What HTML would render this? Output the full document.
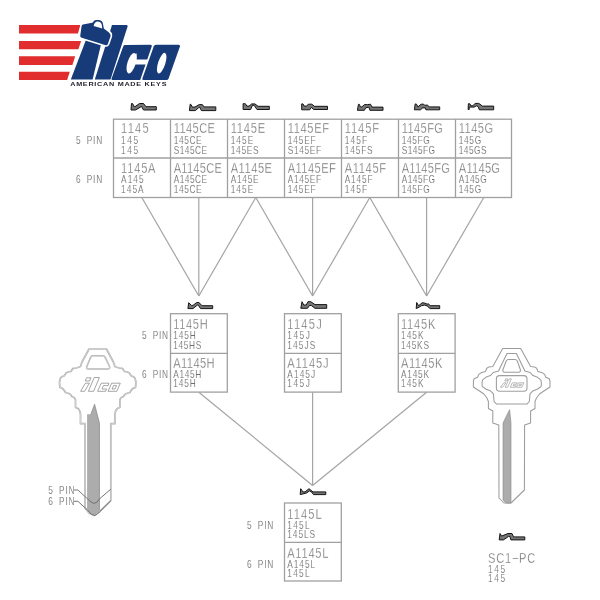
<!DOCTYPE html><html><head><meta charset="utf-8"><style>html,body{margin:0;padding:0;background:#fff;width:600px;height:600px;overflow:hidden}svg{display:block;will-change:transform}text{font-family:"Liberation Sans",sans-serif}</style></head><body>
<svg width="600" height="600" viewBox="0 0 600 600">
<rect width="600" height="600" fill="#fff"/>
<g fill="#e12d2d">
<polygon points="19,24.9 80.6,24.9 77.9,33.5 19,33.5"/>
<polygon points="19,41.1 81.1,41.1 78.4,49.25 19,49.25"/>
<polygon points="19,56.3 75.2,56.3 72.4,65 19,65"/>
<polygon points="19,71.8 69.8,71.8 67.1,80.1 19,80.1"/>
</g>
<g fill="#173a78">
<polygon points="86.7,38 101.6,42 92.6,79.6 70.8,79.6"/>
<path d="M112,24.9 L126.5,24.9 Q128,25 127.6,26.5 L110.5,79.6 L94.8,79.6 Z"/>
<path d="M125,45 L150.6,44.8 Q152.2,44.8 151.8,46.3 L140.2,80.1 L112.6,80.1 Q111.1,80 111.6,78.5 L123.3,46.3 Q123.8,45 125,45 Z"/>
<path d="M156,44.8 L178.6,44.8 Q180.4,44.9 179.9,46.5 L168.6,78.6 Q168,80.1 166.4,80.1 L143.6,80.1 Q141.9,80 142.4,78.4 L153.8,46.3 Q154.4,44.8 156,44.8 Z"/>
</g>
<g fill="#fff">
<ellipse cx="0" cy="0" rx="4.1" ry="10.6" transform="translate(131.5,63.3) rotate(17)"/>
<polygon points="133.2,59.6 147.9,59.6 146.2,64.4 132,64.4"/>
<polygon points="133.5,54 136.7,53.6 136.6,60 133,60"/>
<ellipse cx="0" cy="0" rx="3.6" ry="10.8" transform="translate(161.7,63.2) rotate(18)"/>
</g>
<path d="M82.8,23.6 L92,22 Q93.5,19.2 97,19 Q101.8,19 103.4,22.2 L104.6,28 L109.2,31.5 Q112,33.5 111.3,36.5 L108.6,44.2 Q107.6,46.6 104.8,45.8 L81.5,38.6 Q79,37.8 79.5,35.3 L80.8,26 Q81.2,23.9 82.8,23.6 Z" fill="#173a78" stroke="#fff" stroke-width="1.6" stroke-linejoin="round"/>
<path d="M93.6,26 Q94.5,21.6 97.6,21.5 Q100.9,21.6 101.7,24.6 L102.3,28.4 Q98,27.1 93.6,26 Z" fill="#fff"/>
<text x="70.2" y="86" font-size="5.9" font-weight="bold" fill="#23232e" textLength="97" lengthAdjust="spacingAndGlyphs" letter-spacing="0.6">AMERICAN MADE KEYS</text>
<polygon transform="translate(131,103.5)" points="0,6.5 0.5,0 1.5,0 3.5,3.5 8.5,0 12.5,0 15,3.2 25.3,3.2 25.3,6.5 12.5,6.5 10.5,3 4.5,6.5" fill="#767676" stroke="#141414" stroke-width="1.0" stroke-linejoin="round"/>
<polygon transform="translate(189.4,104.2)" points="0,6.4 0.8,0 1.6,0.3 2.9,2.9 5.6,2.8 9.9,0.3 13.1,0.5 14.6,2.7 26.4,2.7 26.4,6.4 12,6.4 10.2,2.8 9.2,3.5 6,6.4" fill="#767676" stroke="#141414" stroke-width="1.0" stroke-linejoin="round"/>
<polygon transform="translate(243.1,103.7)" points="0,0 2.2,0 3.8,2.4 5.9,2.4 8.6,0.2 11.8,0.2 15,2.6 26.2,2.6 26.2,5.8 13.9,5.8 11,1.6 9.4,1.6 7.5,5.8 0,5.8" fill="#767676" stroke="#141414" stroke-width="1.0" stroke-linejoin="round"/>
<polygon transform="translate(301.7,103.9)" points="0,0 1.3,0 2.4,2.2 4.8,2.2 6.6,0.3 10.1,0.3 12.8,2.4 25.8,2.4 25.8,5.6 12,5.6 9.6,3.5 8,5.9 0,5.9" fill="#767676" stroke="#141414" stroke-width="1.0" stroke-linejoin="round"/>
<polygon transform="translate(357.4,104.2)" points="1.1,0 2.1,0.3 2.9,2.7 4.5,2.7 7.2,0.3 9.9,0.5 13.1,0 14.6,2.9 25.6,2.9 25.6,6.1 12.5,6.1 11.5,2.9 8.3,3.7 6.9,6.1 0,6.1" fill="#767676" stroke="#141414" stroke-width="1.0" stroke-linejoin="round"/>
<polygon transform="translate(414.4,103.9)" points="0.8,0 2.1,0.3 3.5,3 6.7,0.3 9.3,0.3 10.4,1.4 13.1,1.1 14.7,3 25.3,3 25.3,5.9 11.5,5.9 10.9,4 8.3,4 6.1,5.9 0,5.9" fill="#767676" stroke="#141414" stroke-width="1.0" stroke-linejoin="round"/>
<polygon transform="translate(468.1,103.4)" points="0.3,0.3 1.9,0.5 2.7,2.4 4.8,2.4 7,0 10.7,0 14.4,2.7 25.6,2.7 25.6,6.4 11.2,6.4 10.2,3.5 8.6,2.4 5.9,3.7 1.1,3.7 1.1,6.1 0,6.1" fill="#767676" stroke="#141414" stroke-width="1.0" stroke-linejoin="round"/>
<polygon transform="translate(187.9,302.5)" points="0.8,0.2 3.5,2.9 5.1,2.9 8.8,0 11,0 14.2,3.2 24.8,3.2 24.8,6.1 12.6,6.1 10.4,2.6 9.4,2.6 5.1,6.1 0,6.1" fill="#767676" stroke="#141414" stroke-width="1.0" stroke-linejoin="round"/>
<polygon transform="translate(300.8,301.7)" points="1.2,0 3,3.3 5.4,3.3 7.2,0 10,0 14.2,2.9 25.9,2.9 25.9,6.6 14.2,6.6 10.5,3.8 8.7,3.8 6.7,6.6 0,6.6" fill="#767676" stroke="#141414" stroke-width="1.0" stroke-linejoin="round"/>
<polygon transform="translate(416.2,302.5)" points="0.5,0 2.4,3.2 6.1,0.2 8.3,0.5 10.9,1.6 12.3,1.3 13.9,3.2 23.5,3.2 23.5,6.1 13.9,6.1 10.9,3.4 8.5,2.6 5.3,3.2 3.2,4.5 0,6.1" fill="#767676" stroke="#141414" stroke-width="1.0" stroke-linejoin="round"/>
<polygon transform="translate(300.2,488.7)" points="0.5,0 2.7,3.2 4.8,3.2 8.8,0 12.8,3.2 25.6,3.2 25.6,5.9 13.3,5.9 11.2,3.2 9.3,2.2 6.4,4.3 0,5.9" fill="#767676" stroke="#141414" stroke-width="1.0" stroke-linejoin="round"/>
<polygon transform="translate(499.2,533.5)" points="0.8,0 2.4,2.6 8.8,0 12.8,0 14.4,3.4 25.6,3.4 25.6,6.4 11.7,6.4 10.7,2.9 9.3,2.9 4.3,6.4 0,6.4" fill="#767676" stroke="#141414" stroke-width="1.0" stroke-linejoin="round"/>
<g fill="none" stroke="#a0a0a0" stroke-width="1.3">
<rect x="113.5" y="119.2" width="398" height="78.3"/>
<line x1="113.5" y1="158" x2="511.5" y2="158"/>
<line x1="170.5" y1="119.2" x2="170.5" y2="197.5"/>
<line x1="227.5" y1="119.2" x2="227.5" y2="197.5"/>
<line x1="284.5" y1="119.2" x2="284.5" y2="197.5"/>
<line x1="341.5" y1="119.2" x2="341.5" y2="197.5"/>
<line x1="398.5" y1="119.2" x2="398.5" y2="197.5"/>
<line x1="455.5" y1="119.2" x2="455.5" y2="197.5"/>
<rect x="170.5" y="313.7" width="56.8" height="78.4"/>
<line x1="170.5" y1="353.3" x2="227.3" y2="353.3"/>
<rect x="284.5" y="313.7" width="56.8" height="78.4"/>
<line x1="284.5" y1="353.3" x2="341.3" y2="353.3"/>
<rect x="398.3" y="313.7" width="56.8" height="78.4"/>
<line x1="398.3" y1="353.3" x2="455.1" y2="353.3"/>
<rect x="284.5" y="503" width="56.8" height="78"/>
<line x1="284.5" y1="542.3" x2="341.3" y2="542.3"/>
</g>
<g stroke="#a4a4a4" stroke-width="1.2" fill="none">
<line x1="141.8" y1="197.5" x2="198.8" y2="296"/>
<line x1="198.8" y1="197.5" x2="198.8" y2="296"/>
<line x1="255.8" y1="197.5" x2="198.8" y2="296"/>
<line x1="255.8" y1="197.5" x2="312.6" y2="296"/>
<line x1="312.6" y1="197.5" x2="312.6" y2="296"/>
<line x1="369.8" y1="197.5" x2="312.6" y2="296"/>
<line x1="369.8" y1="197.5" x2="426.6" y2="296"/>
<line x1="426.6" y1="197.5" x2="426.6" y2="296"/>
<line x1="483.8" y1="197.5" x2="426.6" y2="296"/>
<line x1="198.8" y1="392.2" x2="312.6" y2="485.5"/>
<line x1="312.6" y1="392.2" x2="312.6" y2="485.5"/>
<line x1="426.6" y1="392.2" x2="312.6" y2="485.5"/>
</g>
<text transform="translate(121.10,133.10) scale(0.8,1)" x="0" y="0" font-size="13.9" textLength="34.38" lengthAdjust="spacing" fill="#6e6e6e" stroke="#fff" stroke-width="0.3" >1145</text>
<text transform="translate(121.10,144.10) scale(0.8,1)" x="0" y="0" font-size="10.4" textLength="21.31" lengthAdjust="spacing" fill="#6e6e6e" stroke="#fff" stroke-width="0.12" >145</text>
<text transform="translate(121.10,153.90) scale(0.8,1)" x="0" y="0" font-size="10.4" textLength="21.31" lengthAdjust="spacing" fill="#6e6e6e" stroke="#fff" stroke-width="0.12" >145</text>
<text transform="translate(121.10,172.50) scale(0.8,1)" x="0" y="0" font-size="13.9" textLength="43.00" lengthAdjust="spacing" fill="#6e6e6e" stroke="#fff" stroke-width="0.3" >1145A</text>
<text transform="translate(121.10,183.10) scale(0.8,1)" x="0" y="0" font-size="10.4" textLength="28.12" lengthAdjust="spacing" fill="#6e6e6e" stroke="#fff" stroke-width="0.12" >A145</text>
<text transform="translate(121.10,192.60) scale(0.8,1)" x="0" y="0" font-size="10.4" textLength="28.12" lengthAdjust="spacing" fill="#6e6e6e" stroke="#fff" stroke-width="0.12" >145A</text>
<text transform="translate(173.70,133.10) scale(0.8,1)" x="0" y="0" font-size="13.9" textLength="51.63" lengthAdjust="spacing" fill="#6e6e6e" stroke="#fff" stroke-width="0.3" >1145CE</text>
<text transform="translate(173.70,144.10) scale(0.8,1)" x="0" y="0" font-size="10.4" textLength="34.94" lengthAdjust="spacing" fill="#6e6e6e" stroke="#fff" stroke-width="0.12" >145CE</text>
<text transform="translate(173.70,153.90) scale(0.8,1)" x="0" y="0" font-size="10.4" textLength="41.75" lengthAdjust="spacing" fill="#6e6e6e" stroke="#fff" stroke-width="0.12" >S145CE</text>
<text transform="translate(173.70,172.50) scale(0.8,1)" x="0" y="0" font-size="13.9" textLength="60.25" lengthAdjust="spacing" fill="#6e6e6e" stroke="#fff" stroke-width="0.3" >A1145CE</text>
<text transform="translate(173.70,183.10) scale(0.8,1)" x="0" y="0" font-size="10.4" textLength="41.75" lengthAdjust="spacing" fill="#6e6e6e" stroke="#fff" stroke-width="0.12" >A145CE</text>
<text transform="translate(173.70,192.60) scale(0.8,1)" x="0" y="0" font-size="10.4" textLength="34.94" lengthAdjust="spacing" fill="#6e6e6e" stroke="#fff" stroke-width="0.12" >145CE</text>
<text transform="translate(230.70,133.10) scale(0.8,1)" x="0" y="0" font-size="13.9" textLength="43.00" lengthAdjust="spacing" fill="#6e6e6e" stroke="#fff" stroke-width="0.3" >1145E</text>
<text transform="translate(230.70,144.10) scale(0.8,1)" x="0" y="0" font-size="10.4" textLength="28.12" lengthAdjust="spacing" fill="#6e6e6e" stroke="#fff" stroke-width="0.12" >145E</text>
<text transform="translate(230.70,153.90) scale(0.8,1)" x="0" y="0" font-size="10.4" textLength="34.94" lengthAdjust="spacing" fill="#6e6e6e" stroke="#fff" stroke-width="0.12" >145ES</text>
<text transform="translate(230.70,172.50) scale(0.8,1)" x="0" y="0" font-size="13.9" textLength="51.63" lengthAdjust="spacing" fill="#6e6e6e" stroke="#fff" stroke-width="0.3" >A1145E</text>
<text transform="translate(230.70,183.10) scale(0.8,1)" x="0" y="0" font-size="10.4" textLength="34.94" lengthAdjust="spacing" fill="#6e6e6e" stroke="#fff" stroke-width="0.12" >A145E</text>
<text transform="translate(230.70,192.60) scale(0.8,1)" x="0" y="0" font-size="10.4" textLength="28.12" lengthAdjust="spacing" fill="#6e6e6e" stroke="#fff" stroke-width="0.12" >145E</text>
<text transform="translate(287.70,133.10) scale(0.8,1)" x="0" y="0" font-size="13.9" textLength="51.63" lengthAdjust="spacing" fill="#6e6e6e" stroke="#fff" stroke-width="0.3" >1145EF</text>
<text transform="translate(287.70,144.10) scale(0.8,1)" x="0" y="0" font-size="10.4" textLength="34.94" lengthAdjust="spacing" fill="#6e6e6e" stroke="#fff" stroke-width="0.12" >145EF</text>
<text transform="translate(287.70,153.90) scale(0.8,1)" x="0" y="0" font-size="10.4" textLength="41.75" lengthAdjust="spacing" fill="#6e6e6e" stroke="#fff" stroke-width="0.12" >S145EF</text>
<text transform="translate(287.70,172.50) scale(0.8,1)" x="0" y="0" font-size="13.9" textLength="60.25" lengthAdjust="spacing" fill="#6e6e6e" stroke="#fff" stroke-width="0.3" >A1145EF</text>
<text transform="translate(287.70,183.10) scale(0.8,1)" x="0" y="0" font-size="10.4" textLength="41.75" lengthAdjust="spacing" fill="#6e6e6e" stroke="#fff" stroke-width="0.12" >A145EF</text>
<text transform="translate(287.70,192.60) scale(0.8,1)" x="0" y="0" font-size="10.4" textLength="34.94" lengthAdjust="spacing" fill="#6e6e6e" stroke="#fff" stroke-width="0.12" >145EF</text>
<text transform="translate(344.70,133.10) scale(0.8,1)" x="0" y="0" font-size="13.9" textLength="43.00" lengthAdjust="spacing" fill="#6e6e6e" stroke="#fff" stroke-width="0.3" >1145F</text>
<text transform="translate(344.70,144.10) scale(0.8,1)" x="0" y="0" font-size="10.4" textLength="28.12" lengthAdjust="spacing" fill="#6e6e6e" stroke="#fff" stroke-width="0.12" >145F</text>
<text transform="translate(344.70,153.90) scale(0.8,1)" x="0" y="0" font-size="10.4" textLength="34.94" lengthAdjust="spacing" fill="#6e6e6e" stroke="#fff" stroke-width="0.12" >145FS</text>
<text transform="translate(344.70,172.50) scale(0.8,1)" x="0" y="0" font-size="13.9" textLength="51.63" lengthAdjust="spacing" fill="#6e6e6e" stroke="#fff" stroke-width="0.3" >A1145F</text>
<text transform="translate(344.70,183.10) scale(0.8,1)" x="0" y="0" font-size="10.4" textLength="34.94" lengthAdjust="spacing" fill="#6e6e6e" stroke="#fff" stroke-width="0.12" >A145F</text>
<text transform="translate(344.70,192.60) scale(0.8,1)" x="0" y="0" font-size="10.4" textLength="28.12" lengthAdjust="spacing" fill="#6e6e6e" stroke="#fff" stroke-width="0.12" >145F</text>
<text transform="translate(401.70,133.10) scale(0.8,1)" x="0" y="0" font-size="13.9" textLength="51.63" lengthAdjust="spacing" fill="#6e6e6e" stroke="#fff" stroke-width="0.3" >1145FG</text>
<text transform="translate(401.70,144.10) scale(0.8,1)" x="0" y="0" font-size="10.4" textLength="34.94" lengthAdjust="spacing" fill="#6e6e6e" stroke="#fff" stroke-width="0.12" >145FG</text>
<text transform="translate(401.70,153.90) scale(0.8,1)" x="0" y="0" font-size="10.4" textLength="41.75" lengthAdjust="spacing" fill="#6e6e6e" stroke="#fff" stroke-width="0.12" >S145FG</text>
<text transform="translate(401.70,172.50) scale(0.8,1)" x="0" y="0" font-size="13.9" textLength="60.25" lengthAdjust="spacing" fill="#6e6e6e" stroke="#fff" stroke-width="0.3" >A1145FG</text>
<text transform="translate(401.70,183.10) scale(0.8,1)" x="0" y="0" font-size="10.4" textLength="41.75" lengthAdjust="spacing" fill="#6e6e6e" stroke="#fff" stroke-width="0.12" >A145FG</text>
<text transform="translate(401.70,192.60) scale(0.8,1)" x="0" y="0" font-size="10.4" textLength="34.94" lengthAdjust="spacing" fill="#6e6e6e" stroke="#fff" stroke-width="0.12" >145FG</text>
<text transform="translate(458.70,133.10) scale(0.8,1)" x="0" y="0" font-size="13.9" textLength="43.00" lengthAdjust="spacing" fill="#6e6e6e" stroke="#fff" stroke-width="0.3" >1145G</text>
<text transform="translate(458.70,144.10) scale(0.8,1)" x="0" y="0" font-size="10.4" textLength="28.12" lengthAdjust="spacing" fill="#6e6e6e" stroke="#fff" stroke-width="0.12" >145G</text>
<text transform="translate(458.70,153.90) scale(0.8,1)" x="0" y="0" font-size="10.4" textLength="34.94" lengthAdjust="spacing" fill="#6e6e6e" stroke="#fff" stroke-width="0.12" >145GS</text>
<text transform="translate(458.70,172.50) scale(0.8,1)" x="0" y="0" font-size="13.9" textLength="51.63" lengthAdjust="spacing" fill="#6e6e6e" stroke="#fff" stroke-width="0.3" >A1145G</text>
<text transform="translate(458.70,183.10) scale(0.8,1)" x="0" y="0" font-size="10.4" textLength="34.94" lengthAdjust="spacing" fill="#6e6e6e" stroke="#fff" stroke-width="0.12" >A145G</text>
<text transform="translate(458.70,192.60) scale(0.8,1)" x="0" y="0" font-size="10.4" textLength="28.12" lengthAdjust="spacing" fill="#6e6e6e" stroke="#fff" stroke-width="0.12" >145G</text>
<text transform="translate(76.00,143.50) scale(0.8,1)" x="0" y="0" font-size="10.4" textLength="8.69" lengthAdjust="spacing" fill="#6e6e6e" stroke="#fff" stroke-width="0.12" >5</text>
<text transform="translate(86.75,143.50) scale(0.8,1)" x="0" y="0" font-size="10.4" textLength="19.31" lengthAdjust="spacing" fill="#6e6e6e" stroke="#fff" stroke-width="0.12" >PIN</text>
<text transform="translate(76.00,182.50) scale(0.8,1)" x="0" y="0" font-size="10.4" textLength="8.69" lengthAdjust="spacing" fill="#6e6e6e" stroke="#fff" stroke-width="0.12" >6</text>
<text transform="translate(86.75,182.50) scale(0.8,1)" x="0" y="0" font-size="10.4" textLength="19.31" lengthAdjust="spacing" fill="#6e6e6e" stroke="#fff" stroke-width="0.12" >PIN</text>
<text transform="translate(173.30,328.70) scale(0.8,1)" x="0" y="0" font-size="13.9" textLength="43.00" lengthAdjust="spacing" fill="#6e6e6e" stroke="#fff" stroke-width="0.3" >1145H</text>
<text transform="translate(173.30,338.60) scale(0.8,1)" x="0" y="0" font-size="10.4" textLength="28.12" lengthAdjust="spacing" fill="#6e6e6e" stroke="#fff" stroke-width="0.12" >145H</text>
<text transform="translate(173.30,348.60) scale(0.8,1)" x="0" y="0" font-size="10.4" textLength="34.94" lengthAdjust="spacing" fill="#6e6e6e" stroke="#fff" stroke-width="0.12" >145HS</text>
<text transform="translate(173.30,367.80) scale(0.8,1)" x="0" y="0" font-size="13.9" textLength="51.63" lengthAdjust="spacing" fill="#6e6e6e" stroke="#fff" stroke-width="0.3" >A1145H</text>
<text transform="translate(173.30,378.10) scale(0.8,1)" x="0" y="0" font-size="10.4" textLength="34.94" lengthAdjust="spacing" fill="#6e6e6e" stroke="#fff" stroke-width="0.12" >A145H</text>
<text transform="translate(173.30,387.20) scale(0.8,1)" x="0" y="0" font-size="10.4" textLength="28.12" lengthAdjust="spacing" fill="#6e6e6e" stroke="#fff" stroke-width="0.12" >145H</text>
<text transform="translate(287.30,328.70) scale(0.8,1)" x="0" y="0" font-size="13.9" textLength="43.00" lengthAdjust="spacing" fill="#6e6e6e" stroke="#fff" stroke-width="0.3" >1145J</text>
<text transform="translate(287.30,338.60) scale(0.8,1)" x="0" y="0" font-size="10.4" textLength="28.12" lengthAdjust="spacing" fill="#6e6e6e" stroke="#fff" stroke-width="0.12" >145J</text>
<text transform="translate(287.30,348.60) scale(0.8,1)" x="0" y="0" font-size="10.4" textLength="34.94" lengthAdjust="spacing" fill="#6e6e6e" stroke="#fff" stroke-width="0.12" >145JS</text>
<text transform="translate(287.30,367.80) scale(0.8,1)" x="0" y="0" font-size="13.9" textLength="51.63" lengthAdjust="spacing" fill="#6e6e6e" stroke="#fff" stroke-width="0.3" >A1145J</text>
<text transform="translate(287.30,378.10) scale(0.8,1)" x="0" y="0" font-size="10.4" textLength="34.94" lengthAdjust="spacing" fill="#6e6e6e" stroke="#fff" stroke-width="0.12" >A145J</text>
<text transform="translate(287.30,387.20) scale(0.8,1)" x="0" y="0" font-size="10.4" textLength="28.12" lengthAdjust="spacing" fill="#6e6e6e" stroke="#fff" stroke-width="0.12" >145J</text>
<text transform="translate(401.00,328.70) scale(0.8,1)" x="0" y="0" font-size="13.9" textLength="43.00" lengthAdjust="spacing" fill="#6e6e6e" stroke="#fff" stroke-width="0.3" >1145K</text>
<text transform="translate(401.00,338.60) scale(0.8,1)" x="0" y="0" font-size="10.4" textLength="28.12" lengthAdjust="spacing" fill="#6e6e6e" stroke="#fff" stroke-width="0.12" >145K</text>
<text transform="translate(401.00,348.60) scale(0.8,1)" x="0" y="0" font-size="10.4" textLength="34.94" lengthAdjust="spacing" fill="#6e6e6e" stroke="#fff" stroke-width="0.12" >145KS</text>
<text transform="translate(401.00,367.80) scale(0.8,1)" x="0" y="0" font-size="13.9" textLength="51.63" lengthAdjust="spacing" fill="#6e6e6e" stroke="#fff" stroke-width="0.3" >A1145K</text>
<text transform="translate(401.00,378.10) scale(0.8,1)" x="0" y="0" font-size="10.4" textLength="34.94" lengthAdjust="spacing" fill="#6e6e6e" stroke="#fff" stroke-width="0.12" >A145K</text>
<text transform="translate(401.00,387.20) scale(0.8,1)" x="0" y="0" font-size="10.4" textLength="28.12" lengthAdjust="spacing" fill="#6e6e6e" stroke="#fff" stroke-width="0.12" >145K</text>
<text transform="translate(141.90,339.00) scale(0.8,1)" x="0" y="0" font-size="10.4" textLength="8.69" lengthAdjust="spacing" fill="#6e6e6e" stroke="#fff" stroke-width="0.12" >5</text>
<text transform="translate(152.65,339.00) scale(0.8,1)" x="0" y="0" font-size="10.4" textLength="19.31" lengthAdjust="spacing" fill="#6e6e6e" stroke="#fff" stroke-width="0.12" >PIN</text>
<text transform="translate(141.90,378.00) scale(0.8,1)" x="0" y="0" font-size="10.4" textLength="8.69" lengthAdjust="spacing" fill="#6e6e6e" stroke="#fff" stroke-width="0.12" >6</text>
<text transform="translate(152.65,378.00) scale(0.8,1)" x="0" y="0" font-size="10.4" textLength="19.31" lengthAdjust="spacing" fill="#6e6e6e" stroke="#fff" stroke-width="0.12" >PIN</text>
<text transform="translate(287.20,519.00) scale(0.8,1)" x="0" y="0" font-size="13.9" textLength="43.00" lengthAdjust="spacing" fill="#6e6e6e" stroke="#fff" stroke-width="0.3" >1145L</text>
<text transform="translate(287.20,528.80) scale(0.8,1)" x="0" y="0" font-size="10.4" textLength="28.12" lengthAdjust="spacing" fill="#6e6e6e" stroke="#fff" stroke-width="0.12" >145L</text>
<text transform="translate(287.20,538.10) scale(0.8,1)" x="0" y="0" font-size="10.4" textLength="34.94" lengthAdjust="spacing" fill="#6e6e6e" stroke="#fff" stroke-width="0.12" >145LS</text>
<text transform="translate(287.20,558.00) scale(0.8,1)" x="0" y="0" font-size="13.9" textLength="51.63" lengthAdjust="spacing" fill="#6e6e6e" stroke="#fff" stroke-width="0.3" >A1145L</text>
<text transform="translate(287.20,567.70) scale(0.8,1)" x="0" y="0" font-size="10.4" textLength="34.94" lengthAdjust="spacing" fill="#6e6e6e" stroke="#fff" stroke-width="0.12" >A145L</text>
<text transform="translate(287.20,576.80) scale(0.8,1)" x="0" y="0" font-size="10.4" textLength="28.12" lengthAdjust="spacing" fill="#6e6e6e" stroke="#fff" stroke-width="0.12" >145L</text>
<text transform="translate(247.10,528.60) scale(0.8,1)" x="0" y="0" font-size="10.4" textLength="8.69" lengthAdjust="spacing" fill="#6e6e6e" stroke="#fff" stroke-width="0.12" >5</text>
<text transform="translate(257.85,528.60) scale(0.8,1)" x="0" y="0" font-size="10.4" textLength="19.31" lengthAdjust="spacing" fill="#6e6e6e" stroke="#fff" stroke-width="0.12" >PIN</text>
<text transform="translate(247.10,567.60) scale(0.8,1)" x="0" y="0" font-size="10.4" textLength="8.69" lengthAdjust="spacing" fill="#6e6e6e" stroke="#fff" stroke-width="0.12" >6</text>
<text transform="translate(257.85,567.60) scale(0.8,1)" x="0" y="0" font-size="10.4" textLength="19.31" lengthAdjust="spacing" fill="#6e6e6e" stroke="#fff" stroke-width="0.12" >PIN</text>
<text transform="translate(488.10,563.00) scale(0.8,1)" x="0" y="0" font-size="13.9" textLength="59.00" lengthAdjust="spacing" fill="#6e6e6e" stroke="#fff" stroke-width="0.3" >SC1&#8722;PC</text>
<text transform="translate(488.10,572.90) scale(0.8,1)" x="0" y="0" font-size="10.4" textLength="21.31" lengthAdjust="spacing" fill="#6e6e6e" stroke="#fff" stroke-width="0.12" >145</text>
<text transform="translate(488.10,582.10) scale(0.8,1)" x="0" y="0" font-size="10.4" textLength="21.31" lengthAdjust="spacing" fill="#6e6e6e" stroke="#fff" stroke-width="0.12" >145</text>
<path d="M87.1,414.2 L90.8,414.2 L94.6,404.2 L99.7,423.3 L99.7,510.5 Q96,515.5 94.2,515.5 Q90,515 87.1,509 Z" fill="#acacac"/>
<path d="M90.8,414.2 L94.6,404.2 L99.4,423.3 L99.4,510.5" fill="none" stroke="#8a8a8a" stroke-width="0.7"/>
<path d="M89.0,349.0 L82.0,362.0 L80.5,366.5 L78.5,367.2 L76.0,368.0 L73.5,368.3 L72.5,369.0 L71.3,371.0 L70.5,371.5 L68.0,372.0 L66.0,373.0 L65.0,374.8 L64.0,376.0 L62.0,376.6 L60.5,378.0 L59.5,382.0 L59.6,385.0 L60.0,387.5 L62.0,388.2 L63.5,389.5 L64.8,391.3 L65.5,392.5 L68.0,393.2 L70.0,394.0 L71.3,395.5 L72.0,396.5 L74.0,397.5 L75.5,399.5 L75.5,407.5 L77.5,408.2 L78.5,409.0 L79.6,410.8 L80.0,412.0 L80.5,414.0 L80.5,423.7 L85.0,423.7 L85.0,508.0 L89.0,513.0 L94.2,515.5 L99.6,511.7 L110.8,500.5 L110.8,423.7 L114.9,423.7 L114.9,414.0 L115.4,412.0 L115.8,410.8 L116.9,409.0 L117.9,408.2 L119.9,407.5 L119.9,399.5 L121.4,397.5 L123.4,396.5 L124.1,395.5 L125.4,394.0 L127.4,393.2 L129.9,392.5 L130.6,391.3 L131.9,389.5 L133.4,388.2 L135.4,387.5 L135.8,385.0 L135.9,382.0 L134.9,378.0 L133.4,376.6 L131.4,376.0 L130.4,374.8 L129.4,373.0 L127.4,372.0 L124.9,371.5 L124.1,371.0 L122.9,369.0 L121.9,368.3 L119.4,368.0 L116.9,367.2 L114.9,366.5 L113.4,362.0 L106.4,349.0 Z" fill="none" stroke="#a8a8a8" stroke-width="1.7" stroke-linejoin="round"/>
<path d="M89.0,349.0 L82.0,362.0 L80.5,366.5 L78.5,367.2 L76.0,368.0 L73.5,368.3 L72.5,369.0 L71.3,371.0 L70.5,371.5 L68.0,372.0 L66.0,373.0 L65.0,374.8 L64.0,376.0 L62.0,376.6 L60.5,378.0 L59.5,382.0 L59.6,385.0 L60.0,387.5 L62.0,388.2 L63.5,389.5 L64.8,391.3 L65.5,392.5 L68.0,393.2 L70.0,394.0 L71.3,395.5 L72.0,396.5 L74.0,397.5 L75.5,399.5 L75.5,407.5 L77.5,408.2 L78.5,409.0 L79.6,410.8 L80.0,412.0 L80.5,414.0 L80.5,423.7 L85.0,423.7 L85.0,508.0 L89.0,513.0 L94.2,515.5 L99.6,511.7 L110.8,500.5 L110.8,423.7 L114.9,423.7 L114.9,414.0 L115.4,412.0 L115.8,410.8 L116.9,409.0 L117.9,408.2 L119.9,407.5 L119.9,399.5 L121.4,397.5 L123.4,396.5 L124.1,395.5 L125.4,394.0 L127.4,393.2 L129.9,392.5 L130.6,391.3 L131.9,389.5 L133.4,388.2 L135.4,387.5 L135.8,385.0 L135.9,382.0 L134.9,378.0 L133.4,376.6 L131.4,376.0 L130.4,374.8 L129.4,373.0 L127.4,372.0 L124.9,371.5 L124.1,371.0 L122.9,369.0 L121.9,368.3 L119.4,368.0 L116.9,367.2 L114.9,366.5 L113.4,362.0 L106.4,349.0 Z" fill="none" stroke="#f4f4f4" stroke-width="0.5" stroke-linejoin="round"/>
<path d="M93,355.8 L102.5,355.8 Q104.5,355.8 105.3,357.6 L109.5,366.5 Q110.3,369 107.5,369 L88.5,369 Q86,369 86.8,366.5 L90.5,357.6 Q91.2,355.8 93,355.8 Z" fill="none" stroke="#a8a8a8" stroke-width="1.5" stroke-linejoin="round"/>
<path d="M93,355.8 L102.5,355.8 Q104.5,355.8 105.3,357.6 L109.5,366.5 Q110.3,369 107.5,369 L88.5,369 Q86,369 86.8,366.5 L90.5,357.6 Q91.2,355.8 93,355.8 Z" fill="none" stroke="#f4f4f4" stroke-width="0.4" stroke-linejoin="round"/>
<g fill="none" stroke="#8a8a8a" stroke-width="0.75" stroke-linejoin="round">
<polygon points="86.6,377.8 91,377.8 89.6,381 85.2,381"/>
<polygon points="85.4,383.2 89.4,383.2 84.6,391.3 80.6,391.3"/>
<polygon points="94.2,377.5 99.4,377.5 93.6,391.3 88.4,391.3"/>
<polygon points="101.2,383.2 109,383.2 108.2,385.6 103.4,385.6 102,389 106.6,389 105.6,391.3 97.6,391.3"/>
<polygon points="111.6,383.2 120.3,383.2 116.8,391.3 108.1,391.3"/>
<polygon points="113.6,385.6 116.6,385.6 115,389 112,389"/>
</g>
<path d="M73.8,490 L77.9,490 L87.5,498.8 Q92,503.3 94.2,503.3 Q97,503.3 99.6,498.8 L110.8,489.2" fill="none" stroke="#666" stroke-width="0.9"/>
<path d="M73.8,501.3 L77.9,501.3 L87.5,510 Q91,515.4 94.2,515.4 Q97,515.4 99.6,511.7 L110.8,500.8" fill="none" stroke="#666" stroke-width="0.9"/>
<text transform="translate(48.30,493.80) scale(0.8,1)" x="0" y="0" font-size="10.4" textLength="8.69" lengthAdjust="spacing" fill="#6e6e6e" stroke="#fff" stroke-width="0.12" >5</text>
<text transform="translate(59.05,493.80) scale(0.8,1)" x="0" y="0" font-size="10.4" textLength="19.31" lengthAdjust="spacing" fill="#6e6e6e" stroke="#fff" stroke-width="0.12" >PIN</text>
<text transform="translate(48.30,505.30) scale(0.8,1)" x="0" y="0" font-size="10.4" textLength="8.69" lengthAdjust="spacing" fill="#6e6e6e" stroke="#fff" stroke-width="0.12" >6</text>
<text transform="translate(59.05,505.30) scale(0.8,1)" x="0" y="0" font-size="10.4" textLength="19.31" lengthAdjust="spacing" fill="#6e6e6e" stroke="#fff" stroke-width="0.12" >PIN</text>
<path d="M503,423 L509.6,409.6 L511,423 L511,503 Q508,503.5 506,503 L503,500 Z" fill="#acacac" stroke="#8a8a8a" stroke-width="0.6" stroke-linejoin="round"/>
<path d="M502.7,348.5 L492.8,366.5 L488.9,366.9 L486.8,368.3 L485.4,371.5 L480.9,372.8 L478.6,374.6 L477.6,377.2 L474.2,378.8 L473.4,381.0 L473.4,387.0 L476.4,389.0 L479.9,391.3 L483.9,394.0 L486.9,398.0 L488.4,401.5 L488.4,408.5 L492.8,411.0 L492.8,423.0 L498.8,425.0 L499.0,498.0 L504.0,503.0 L511.0,503.0 L524.4,490.0 L524.6,425.0 L530.6,423.0 L530.6,411.0 L535.0,408.5 L535.0,401.5 L536.5,398.0 L539.5,394.0 L543.5,391.3 L547.0,389.0 L550.0,387.0 L550.0,381.0 L549.2,378.8 L545.8,377.2 L544.8,374.6 L542.5,372.8 L538.0,371.5 L536.6,368.3 L534.5,366.9 L530.6,366.5 L520.7,348.5 Z" fill="none" stroke="#9c9c9c" stroke-width="1.05" stroke-linejoin="round"/>
<path d="M507.0,353.5 L498.5,371.0 L493.2,372.5 L490.9,375.2 L485.9,377.3 L482.6,379.8 L482.0,383.0 L482.2,386.3 L485.7,389.0 L490.7,391.1 L493.4,393.9 L494.1,401.5 L496.3,403.9 L527.1,403.9 L529.3,401.5 L530.0,393.9 L532.7,391.1 L537.7,389.0 L541.2,386.3 L541.4,383.0 L540.8,379.8 L537.5,377.3 L532.5,375.2 L530.2,372.5 L524.9,371.0 L516.4,353.5 Z" fill="none" stroke="#9c9c9c" stroke-width="1.05" stroke-linejoin="round"/>
<path d="M508.5,359.5 L515,359.5 Q516.6,359.5 517.3,361 L520.3,369.5 Q521,372.2 518.5,372.2 L504.8,372.2 Q502.3,372.2 503,369.5 L506.2,361 Q506.9,359.5 508.5,359.5 Z" fill="none" stroke="#9c9c9c" stroke-width="1.05" stroke-linejoin="round"/>
<rect x="496.4" y="375.6" width="30.6" height="15.6" rx="3.2" fill="none" stroke="#a0a0a0" stroke-width="1.1"/>
<g fill="none" stroke="#7a7a7a" stroke-width="0.5" stroke-linejoin="round">
<polygon points="503.8,382.8 506,382.8 502.5,387.3 500.3,387.3"/>
<polygon points="505.6,378.9 507.8,378.9 507,381 504.8,381"/>
<polygon points="509,378.9 511.4,378.9 507.6,387.3 505.2,387.3"/>
<polygon points="512.2,382.8 517.2,382.8 516.6,384.3 513.6,384.3 513,385.8 516,385.8 515.4,387.3 510.4,387.3"/>
<polygon points="518.6,382.8 524,382.8 521.8,387.3 516.4,387.3"/>
<polygon points="519.6,384.3 521.6,384.3 520.8,385.8 518.8,385.8"/>
</g>
</svg></body></html>
